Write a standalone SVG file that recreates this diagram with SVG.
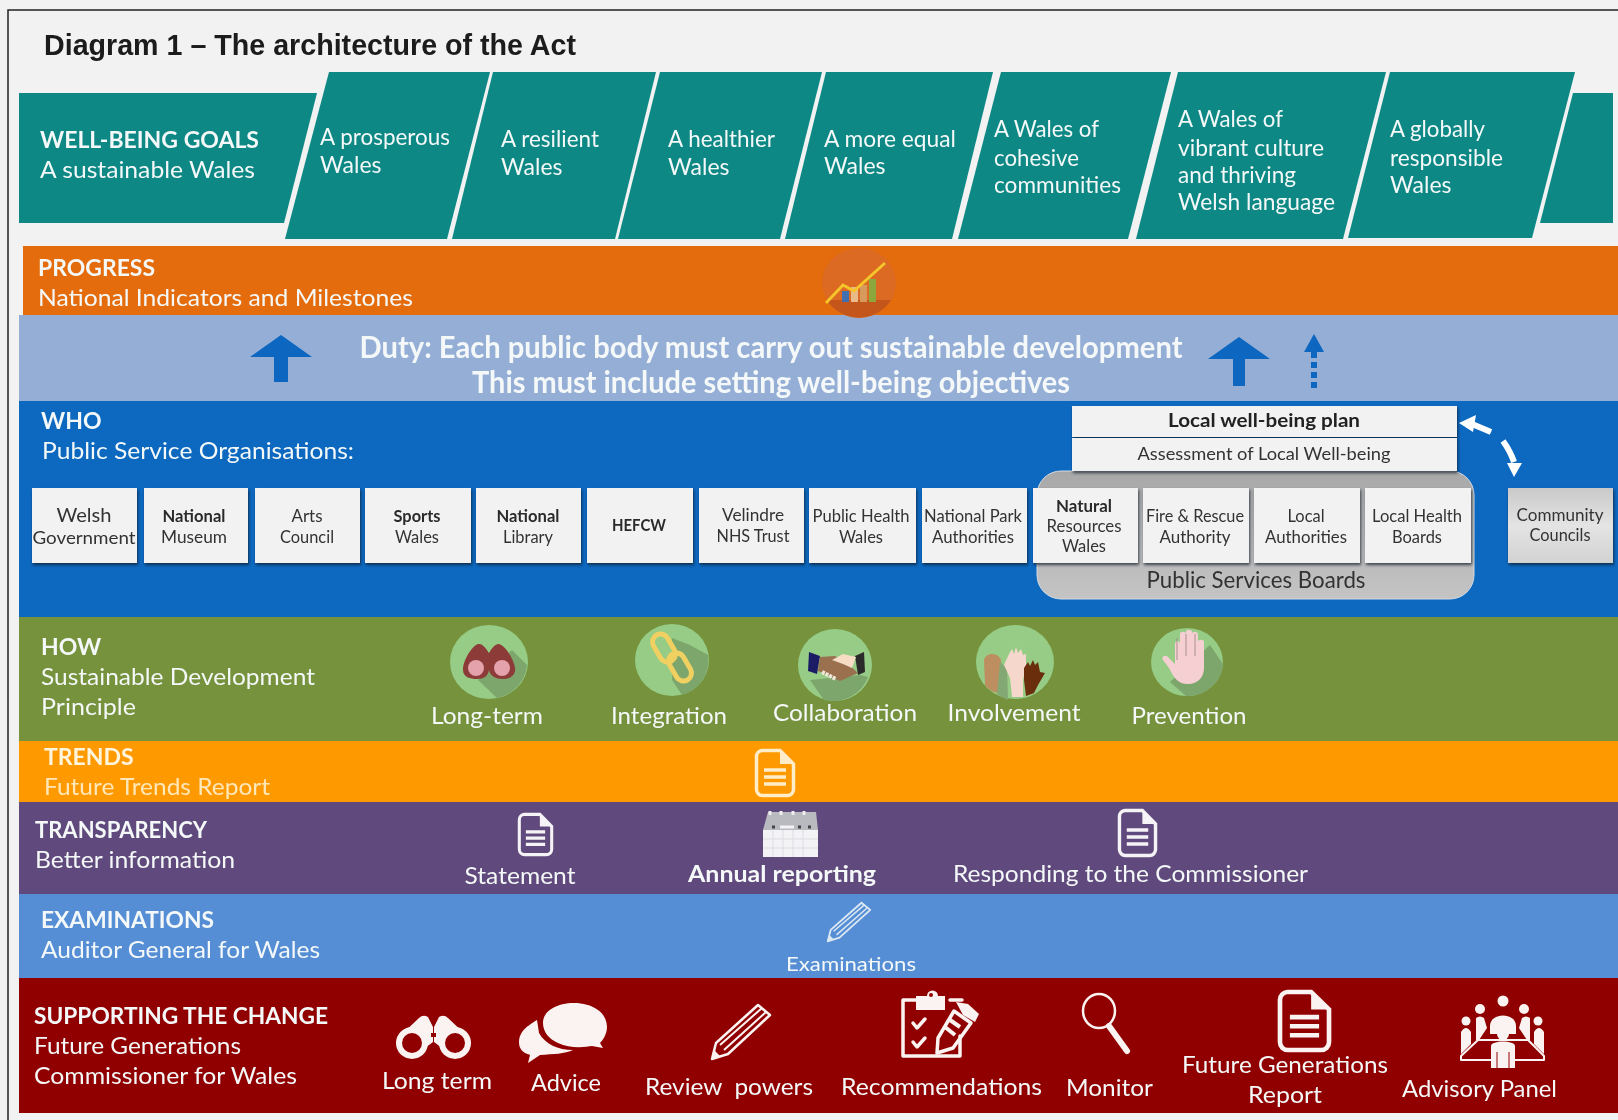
<svg xmlns="http://www.w3.org/2000/svg" width="1618" height="1120" viewBox="0 0 1618 1120">
<style>
text{font-family:"Lato","Carlito","Open Sans",sans-serif;fill:#f4f8f8;font-size:23px}
.b{font-weight:700}
.m{text-anchor:middle}
.t{font-family:"Liberation Sans",Arial,sans-serif;font-weight:700;font-size:29px;fill:#1a1a1a}
.k{fill:#333;font-size:17px;text-anchor:middle}
.kb{fill:#2b2b2b;font-size:17px;font-weight:700;text-anchor:middle}
.teal{fill:#0b8884}
.box{fill:#f2f2f2;filter:url(#sh)}
.disc{fill:#96cc86}
.shade{fill:#7da66d}
.w{fill:#fbf3f1}
.ln{fill:none;stroke:#fbf3f1;stroke-linecap:round;stroke-linejoin:round}
</style>
<defs>
<filter id="soft" x="-2%" y="-2%" width="104%" height="104%"><feGaussianBlur stdDeviation="0.6"/></filter>
<filter id="sh" x="-10%" y="-10%" width="125%" height="125%"><feDropShadow dx="1" dy="2" stdDeviation="1.6" flood-color="#0a1a2c" flood-opacity="0.75"/></filter>
<linearGradient id="cc" x1="0" y1="0" x2="0" y2="1"><stop offset="0" stop-color="#c9c9c9"/><stop offset="0.5" stop-color="#e4e4e4"/><stop offset="1" stop-color="#d2d2d2"/></linearGradient>
<linearGradient id="psb" x1="0" y1="0" x2="0" y2="1"><stop offset="0" stop-color="#a8a8a8"/><stop offset="0.6" stop-color="#b8b8b8"/><stop offset="1" stop-color="#c4c4c4"/></linearGradient>
<symbol id="doc" viewBox="0 0 40 48" preserveAspectRatio="none" overflow="visible">
<path d="M7 1.500H25L38.500 15V40.500A6 6 0 0 1 32.500 46.500H7.500A6 6 0 0 1 1.500 40.500V7.500A6 6 0 0 1 7 1.500Z" fill="none" stroke="currentColor" stroke-width="3.500"/>
<path d="M25 2V15H38Z" fill="currentColor"/>
<path d="M9 21H31M9 28H31M9 35H31" stroke="currentColor" stroke-width="3.500"/>
</symbol>
<symbol id="pencil" viewBox="0 0 60 56" preserveAspectRatio="none" overflow="visible">
<path d="M1 55L5 39L47 1L59 11L17 50Z" fill="none" stroke="currentColor" stroke-width="2.500" stroke-linejoin="round"/>
<path d="M9 41L51 4M13 46L55 8" fill="none" stroke="currentColor" stroke-width="2"/>
<path d="M1 55L3 46L9 52Z" fill="currentColor"/>
</symbol>
</defs>
<rect width="1618" height="1120" fill="#f2f2f2"/>
<g filter="url(#soft)">
<path d="M1618 10H8V1120" fill="none" stroke="#222" stroke-width="1.500"/>
<text class="t" x="44" y="55" textLength="532" lengthAdjust="spacingAndGlyphs">Diagram 1 – The architecture of the Act</text>

<g id="well-being-goals">
<path class="teal" d="M19 93H317L284 223H19Z"/>
<text class="b" x="40" y="148" font-size="24" textLength="219" lengthAdjust="spacingAndGlyphs">WELL-BEING GOALS</text>
<text x="40" y="178" textLength="215" lengthAdjust="spacingAndGlyphs">A sustainable Wales</text>
<path class="teal" d="M1573 93H1613V223H1540Z"/>
</g>
<g id="goal-prosperous"><path class="teal" d="M329 72H490L447 239H285Z"/>
<text x="320" y="145" textLength="130" lengthAdjust="spacingAndGlyphs">A prosperous</text><text x="320" y="173">Wales</text></g>
<g id="goal-resilient"><path class="teal" d="M493 72H656L615 239H452Z"/>
<text x="501" y="147" textLength="98" lengthAdjust="spacingAndGlyphs">A resilient</text><text x="501" y="175">Wales</text></g>
<g id="goal-healthier"><path class="teal" d="M660 72H822L780 239H618Z"/>
<text x="668" y="147" textLength="107" lengthAdjust="spacingAndGlyphs">A healthier</text><text x="668" y="175">Wales</text></g>
<g id="goal-equal"><path class="teal" d="M826 72H993L952 239H785Z"/>
<text x="824" y="147" textLength="132" lengthAdjust="spacingAndGlyphs">A more equal</text><text x="824" y="174">Wales</text></g>
<g id="goal-cohesive"><path class="teal" d="M1001 72H1171L1128 239H958Z"/>
<text x="994" y="137" textLength="105" lengthAdjust="spacingAndGlyphs">A Wales of</text><text x="994" y="166" textLength="85" lengthAdjust="spacingAndGlyphs">cohesive</text><text x="994" y="193" textLength="127" lengthAdjust="spacingAndGlyphs">communities</text></g>
<g id="goal-vibrant"><path class="teal" d="M1178 72H1386L1343 239H1136Z"/>
<text x="1178" y="127" textLength="105" lengthAdjust="spacingAndGlyphs">A Wales of</text><text x="1178" y="156" textLength="146" lengthAdjust="spacingAndGlyphs">vibrant culture</text><text x="1178" y="183" textLength="118" lengthAdjust="spacingAndGlyphs">and thriving</text><text x="1178" y="210" textLength="157" lengthAdjust="spacingAndGlyphs">Welsh language</text></g>
<g id="goal-globally"><path class="teal" d="M1390 72H1575L1532 238H1348Z"/>
<text x="1390" y="137" textLength="95" lengthAdjust="spacingAndGlyphs">A globally</text><text x="1390" y="166" textLength="113" lengthAdjust="spacingAndGlyphs">responsible</text><text x="1390" y="193">Wales</text></g>

<g id="progress">
<rect x="23" y="246" width="1595" height="69" fill="#e46c0a"/>
<text class="b" x="38" y="276" textLength="117" lengthAdjust="spacingAndGlyphs">PROGRESS</text>
<text x="38" y="306" textLength="375" lengthAdjust="spacingAndGlyphs">National Indicators and Milestones</text>
</g>

<g id="duty">
<rect x="19" y="315" width="1599" height="86" fill="#94aed6"/>
<text class="b m" x="771" y="358" style="font-size:30px" textLength="823" lengthAdjust="spacingAndGlyphs">Duty: Each public body must carry out sustainable development</text>
<text class="b m" x="771" y="393" style="font-size:30px" textLength="598" lengthAdjust="spacingAndGlyphs">This must include setting well-being objectives</text>
</g>

<g id="progress-icon">
<ellipse cx="859" cy="283" rx="37" ry="35" fill="#dc6a22"/>
<path d="M827 300A37 35 0 0 0 891 300Z" fill="#c4561b"/>
<rect x="842" y="291" width="7" height="11" fill="#3f6fb0"/><rect x="851" y="287" width="7" height="15" fill="#e9b98a"/><rect x="860" y="285" width="7" height="17" fill="#d79a5d"/><rect x="869" y="279" width="7" height="23" fill="#8ca83e"/>
<path d="M826 303L843 285L854 291L885 263" fill="none" stroke="#f5c52c" stroke-width="3"/>
</g>

<g id="who">
<rect x="19" y="401" width="1599" height="216" fill="#0a69c0"/>
<text class="b" x="41" y="429">WHO</text>
<text x="42" y="459" textLength="312" lengthAdjust="spacingAndGlyphs">Public Service Organisations:</text>
</g>
<g id="public-services-boards">
<rect x="1037" y="471" width="437" height="128" rx="24" fill="url(#psb)" stroke="#d5d9df"/>
<text class="m" x="1256" y="588" style="fill:#333" textLength="219" lengthAdjust="spacingAndGlyphs">Public Services Boards</text>
</g>
<g id="local-plan"><rect class="box" x="1072" y="406" width="385" height="31"/><text class="kb" x="1264" y="427" style="font-size:18px;fill:#222" textLength="192" lengthAdjust="spacingAndGlyphs">Local well-being plan</text></g>
<g id="assessment"><rect class="box" x="1072" y="438" width="385" height="33"/><text class="k" x="1264" y="460" textLength="253" lengthAdjust="spacingAndGlyphs">Assessment of Local Well-being</text></g>
<g id="org-welsh-government"><rect class="box" x="32" y="488" width="105" height="75"/><text class="k" x="84" y="522" style="font-size:20px" textLength="55" lengthAdjust="spacingAndGlyphs">Welsh</text><text class="k" x="84" y="544" textLength="103" lengthAdjust="spacingAndGlyphs">Government</text></g>
<g id="org-national-museum"><rect class="box" x="144" y="488" width="104" height="75"/><text class="kb" x="194" y="522" textLength="63" lengthAdjust="spacingAndGlyphs">National</text><text class="k" x="194" y="543" textLength="66" lengthAdjust="spacingAndGlyphs">Museum</text></g>
<g id="org-arts-council"><rect class="box" x="255" y="488" width="105" height="75"/><text class="k" x="307" y="522" textLength="31" lengthAdjust="spacingAndGlyphs">Arts</text><text class="k" x="307" y="543" textLength="54" lengthAdjust="spacingAndGlyphs">Council</text></g>
<g id="org-sports-wales"><rect class="box" x="365" y="488" width="106" height="75"/><text class="kb" x="417" y="522" textLength="47" lengthAdjust="spacingAndGlyphs">Sports</text><text class="k" x="417" y="543" textLength="44" lengthAdjust="spacingAndGlyphs">Wales</text></g>
<g id="org-national-library"><rect class="box" x="476" y="488" width="105" height="75"/><text class="kb" x="528" y="522" textLength="63" lengthAdjust="spacingAndGlyphs">National</text><text class="k" x="528" y="543" textLength="50" lengthAdjust="spacingAndGlyphs">Library</text></g>
<g id="org-hefcw"><rect class="box" x="587" y="488" width="106" height="75"/><text class="kb" x="639" y="531" textLength="54" lengthAdjust="spacingAndGlyphs">HEFCW</text></g>
<g id="org-velindre"><rect class="box" x="699" y="488" width="105" height="75"/><text class="k" x="753" y="521" textLength="62" lengthAdjust="spacingAndGlyphs">Velindre</text><text class="k" x="753" y="542" textLength="73" lengthAdjust="spacingAndGlyphs">NHS Trust</text></g>
<g id="org-public-health"><rect class="box" x="809" y="488" width="107" height="75"/><text class="k" x="861" y="522" textLength="97" lengthAdjust="spacingAndGlyphs">Public Health</text><text class="k" x="861" y="543" textLength="44" lengthAdjust="spacingAndGlyphs">Wales</text></g>
<g id="org-national-park"><rect class="box" x="922" y="488" width="105" height="75"/><text class="k" x="973" y="522" textLength="98" lengthAdjust="spacingAndGlyphs">National Park</text><text class="k" x="973" y="543" textLength="82" lengthAdjust="spacingAndGlyphs">Authorities</text></g>
<g id="org-natural-resources"><rect class="box" x="1033" y="488" width="105" height="75"/><text class="kb" x="1084" y="512" textLength="56" lengthAdjust="spacingAndGlyphs">Natural</text><text class="k" x="1084" y="532" textLength="75" lengthAdjust="spacingAndGlyphs">Resources</text><text class="k" x="1084" y="552" textLength="44" lengthAdjust="spacingAndGlyphs">Wales</text></g>
<g id="org-fire-rescue"><rect class="box" x="1143" y="488" width="106" height="75"/><text class="k" x="1195" y="522" textLength="98" lengthAdjust="spacingAndGlyphs">Fire &amp; Rescue</text><text class="k" x="1195" y="543" textLength="71" lengthAdjust="spacingAndGlyphs">Authority</text></g>
<g id="org-local-authorities"><rect class="box" x="1254" y="488" width="106" height="75"/><text class="k" x="1306" y="522" textLength="37" lengthAdjust="spacingAndGlyphs">Local</text><text class="k" x="1306" y="543" textLength="82" lengthAdjust="spacingAndGlyphs">Authorities</text></g>
<g id="org-local-health"><rect class="box" x="1365" y="488" width="106" height="75"/><text class="k" x="1417" y="522" textLength="90" lengthAdjust="spacingAndGlyphs">Local Health</text><text class="k" x="1417" y="543" textLength="50" lengthAdjust="spacingAndGlyphs">Boards</text></g>
<g id="org-community-councils"><rect x="1508" y="488" width="105" height="75" fill="url(#cc)" filter="url(#sh)"/><text class="k" x="1560" y="521" textLength="87" lengthAdjust="spacingAndGlyphs">Community</text><text class="k" x="1560" y="541" textLength="61" lengthAdjust="spacingAndGlyphs">Councils</text></g>

<g id="how">
<rect x="19" y="617" width="1599" height="124" fill="#76923c"/>
<text class="b" x="41" y="655">HOW</text>
<text x="41" y="685" textLength="274" lengthAdjust="spacingAndGlyphs">Sustainable Development</text>
<text x="41" y="715" textLength="95" lengthAdjust="spacingAndGlyphs">Principle</text>
</g>
<g id="long-term">
<ellipse class="disc" cx="489" cy="662" rx="39" ry="37"/>
<path class="shade" d="M478 680L512 650L527 665A39 37 0 0 1 497 698Z"/>
<path d="M478 644C472 646 463 660 463 670C463 677 470 679 477 679C484 679 488 676 489 670C490 676 496 679 503 679C510 679 516 675 515 668C514 660 506 646 499 644C494 644 491 650 489 653C487 650 483 643 478 644Z" fill="#8c3a37"/>
<circle cx="476" cy="668" r="8" fill="#e3a2ac"/><circle cx="502" cy="668" r="8" fill="#e3a2ac"/>
<text class="m" x="487" y="724" textLength="112" lengthAdjust="spacingAndGlyphs">Long-term</text>
</g>
<g id="integration">
<ellipse class="disc" cx="672" cy="660" rx="37" ry="36"/>
<path class="shade" d="M672 638L690 645L708 655A37 36 0 0 1 682 695L672 680Z"/>
<rect x="656" y="633" width="16" height="30" rx="8" transform="rotate(-30 664 648)" fill="none" stroke="#f0d060" stroke-width="5"/>
<rect x="672" y="652" width="16" height="30" rx="8" transform="rotate(-30 680 667)" fill="none" stroke="#f0d060" stroke-width="5"/>
<text class="m" x="669" y="724" textLength="116" lengthAdjust="spacingAndGlyphs">Integration</text>
</g>
<g id="collaboration">
<ellipse class="disc" cx="835" cy="665" rx="37" ry="36"/>
<path class="shade" d="M810 680L860 675L868 677A37 36 0 0 1 824 700Z"/>
<path d="M809 652L820 656L817 674L808 671Z" fill="#1f1f66"/><path d="M864 652L855 656L858 675L865 672Z" fill="#2b2b2b"/>
<path d="M820 657L835 656L848 664L858 673L840 681L826 674L818 671Z" fill="#9b6f50"/><path d="M832 660L843 654L856 657L852 668L843 664Z" fill="#f6dcc4"/>
<path d="M822 672L836 679" stroke="#f0e6d8" stroke-width="4" stroke-dasharray="3 1"/>
<text class="m" x="845" y="721" textLength="144" lengthAdjust="spacingAndGlyphs">Collaboration</text>
</g>
<g id="involvement">
<ellipse class="disc" cx="1015" cy="662" rx="39" ry="37"/>
<path d="M984 660C986 652 998 652 1001 660L1005 692C1000 695 990 692 985 685Z" fill="#bd8e5f"/>
<path d="M1000 662L1007 668L1008 700A39 37 0 0 1 997 694Z" fill="#83a873"/>
<path d="M1009 654L1012 649L1014 654L1016 647L1018 653L1021 649L1023 655L1026 654V668L1023 680V697H1012L1010 678L1004 665Z" fill="#f5d7cc"/>
<path d="M1024 668L1028 662L1030 666L1033 660L1035 665L1038 662L1040 672L1045 673L1038 685L1034 693L1026 696L1024 680Z" fill="#6a2d0e"/>
<text class="m" x="1014" y="721" textLength="133" lengthAdjust="spacingAndGlyphs">Involvement</text>
</g>
<g id="prevention">
<ellipse class="disc" cx="1187" cy="662" rx="36" ry="34"/>
<path class="shade" d="M1210 645L1223 664A36 34 0 0 1 1186 696L1170 682Z"/>
<path d="M1175 644C1175 640 1180 640 1180 644V634C1180 631 1186 631 1186 634V632C1186 629 1192 629 1192 632V634C1192 631 1198 631 1198 635V642C1198 639 1204 639 1204 642V668C1204 678 1197 684 1188 684C1178 684 1174 678 1169 668L1163 660C1161 657 1165 654 1168 657L1175 664Z" fill="#f6cfd2"/>
<path d="M1177 638V660M1186 634V656M1195 634V656" stroke="#9a8a85" stroke-width="1.500" opacity=".6"/>
<text class="m" x="1189" y="724" textLength="115" lengthAdjust="spacingAndGlyphs">Prevention</text>
</g>

<g id="trends">
<rect x="19" y="741" width="1599" height="61" fill="#ff9900"/>
<text class="b" x="44" y="765" style="fill:#fff4dc">TRENDS</text>
<text x="44" y="795" style="fill:#ffe7b8" textLength="226" lengthAdjust="spacingAndGlyphs">Future Trends Report</text>
<use href="#doc" x="755" y="749" width="40" height="48" style="color:#ffedc9"/>
</g>
<g id="transparency">
<rect x="19" y="802" width="1599" height="92" fill="#604a7b"/>
<text class="b" x="35" y="838" textLength="172" lengthAdjust="spacingAndGlyphs">TRANSPARENCY</text>
<text x="35" y="868" textLength="200" lengthAdjust="spacingAndGlyphs">Better information</text>
</g>
<g id="statement">
<use href="#doc" x="518" y="813" width="35" height="43" style="color:#f6f3f6"/>
<text class="m" x="520" y="884" textLength="111" lengthAdjust="spacingAndGlyphs">Statement</text>
</g>
<g id="annual-reporting">
<rect x="763" y="830" width="55" height="27" fill="#f3f3f6"/>
<path d="M768 812H816L818 830H763Z" fill="#b9b9c0"/>
<path d="M770 811V815M781 811V815M793 811V815M804 811V815" stroke="#eeeeee" stroke-width="3"/>
<path d="M772 827H775M798 827H801M808 827H811" stroke="#444" stroke-width="3"/>
<path d="M780 827H794" stroke="#f3f3f6" stroke-width="3"/>
<path d="M763 839H818M763 848H818M773 830V857M783 830V857M793 830V857M803 830V857" stroke="#dcdce2" stroke-width="1"/>
<text class="b m" x="782" y="882" textLength="188" lengthAdjust="spacingAndGlyphs">Annual reporting</text>
</g>
<g id="responding">
<use href="#doc" x="1118" y="809" width="39" height="48" style="color:#f6f3f6"/>
<text x="953" y="882" textLength="355" lengthAdjust="spacingAndGlyphs">Responding to the Commissioner</text>
</g>
<g id="examinations">
<rect x="19" y="894" width="1599" height="84" fill="#558ed5"/>
<text class="b" x="41" y="928" textLength="173" lengthAdjust="spacingAndGlyphs">EXAMINATIONS</text>
<text x="41" y="958" textLength="279" lengthAdjust="spacingAndGlyphs">Auditor General for Wales</text>
<use href="#pencil" x="827" y="902" width="44" height="40" style="color:#dbe8f2"/>
<text x="786" y="971" style="font-size:20px" textLength="130" lengthAdjust="spacingAndGlyphs">Examinations</text>
</g>
<g id="supporting">
<rect x="19" y="978" width="1599" height="135" fill="#900000"/>
<text class="b" x="34" y="1024" textLength="294" lengthAdjust="spacingAndGlyphs">SUPPORTING THE CHANGE</text>
<text x="34" y="1054" textLength="207" lengthAdjust="spacingAndGlyphs">Future Generations</text>
<text x="34" y="1084" textLength="263" lengthAdjust="spacingAndGlyphs">Commissioner for Wales</text>
</g>
<g id="sup-long-term">
<path class="w" d="M400 1036L419 1018Q423 1014 428 1017L433 1027V1042L425 1048Z"/>
<path class="w" d="M467 1036L448 1018Q444 1014 439 1017L434 1027V1042L442 1048Z"/>
<circle cx="412" cy="1043" r="16" class="w"/><circle cx="455" cy="1043" r="16" class="w"/>
<circle cx="412" cy="1043" r="10" fill="#900000"/><circle cx="455" cy="1043" r="10" fill="#900000"/>
<rect x="431" y="1033" width="5" height="4" fill="#900000"/>
<text x="382" y="1089" textLength="110" lengthAdjust="spacingAndGlyphs">Long term</text>
</g>
<g id="sup-advice">
<ellipse cx="576" cy="1025" rx="32" ry="22" fill="#900000"/>
<path class="w" d="M543 1023C543 1010 558 1003 574 1003C592 1003 607 1012 607 1027C607 1034 603 1040 600 1043L603 1048L592 1046C586 1047 570 1049 558 1043C549 1039 543 1032 543 1023Z"/>
<path class="w" d="M537 1020C529 1025 519 1031 519 1042C519 1050 524 1053 530 1055L528 1063L540 1055C553 1054 565 1054 573 1050C558 1050 545 1044 539 1033Z"/>
<text x="531" y="1091" textLength="70" lengthAdjust="spacingAndGlyphs">Advice</text>
</g>
<g id="sup-review">
<use href="#pencil" x="711" y="1004" width="60" height="56" style="color:#fbf3f1"/>
<text x="645" y="1095" textLength="168" lengthAdjust="spacingAndGlyphs" xml:space="preserve">Review  powers</text>
</g>
<g id="sup-recommendations">
<path class="ln" stroke-width="3.500" d="M918 1000H903V1056H960V1036M950 1000H962"/>
<path class="w" d="M916 996H927A5.500 5.500 0 0 1 938 996H945V1010H916Z"/>
<circle cx="931" cy="995" r="2" fill="#900000"/>
<path class="ln" stroke-width="3.500" d="M913 1023L917 1028L925 1019M913 1042L917 1047L925 1038"/>
<path class="w" d="M956 1002L968 1004L979 1014L975 1022L963 1015Z"/>
<path class="ln" stroke-width="3.500" d="M954 1011L971 1023L953 1048L937 1053L938 1038Z"/>
<path d="M950 1020L960 1027" stroke="#fbf3f1" stroke-width="4"/><path d="M945 1027L955 1035" stroke="#fbf3f1" stroke-width="4"/>
<text x="841" y="1095" textLength="201" lengthAdjust="spacingAndGlyphs">Recommendations</text>
</g>
<g id="sup-monitor">
<ellipse cx="1099" cy="1011" rx="16" ry="17" fill="none" stroke="#fbf3f1" stroke-width="2.500"/>
<path d="M1109 1026L1127 1051" stroke="#fbf3f1" stroke-width="6" stroke-linecap="round"/>
<text x="1066" y="1096" textLength="87" lengthAdjust="spacingAndGlyphs">Monitor</text>
</g>
<g id="sup-report">
<use href="#doc" x="1278" y="990" width="53" height="62" style="color:#fbf3f1"/>
<text class="m" x="1285" y="1073" textLength="206" lengthAdjust="spacingAndGlyphs">Future Generations</text>
<text class="m" x="1285" y="1103" textLength="74" lengthAdjust="spacingAndGlyphs">Report</text>
</g>
<g id="sup-panel">
<circle cx="1503" cy="1001" r="5.500" class="w"/><circle cx="1480" cy="1009" r="5" class="w"/><circle cx="1524" cy="1009" r="5" class="w"/><circle cx="1466" cy="1021" r="4.500" class="w"/><circle cx="1538" cy="1021" r="4.500" class="w"/>
<path class="w" d="M1490 1026C1490 1012 1516 1012 1516 1026V1034H1490Z"/>
<path class="w" d="M1476 1018Q1480 1015 1484 1018L1487 1028L1479 1040H1476Z M1522 1018Q1526 1015 1530 1018V1040H1527L1519 1028Z"/>
<path class="w" d="M1461 1032Q1466 1024 1471 1032V1044L1461 1054Z M1534 1032Q1539 1024 1544 1032V1054L1534 1044Z"/>
<path class="ln" stroke-width="2" d="M1478 1040H1528L1544 1056V1060H1461V1056Z"/>
<circle cx="1503" cy="1034" r="6" class="w"/>
<path class="w" d="M1491 1046C1491 1040 1515 1040 1515 1046V1068H1491Z"/>
<path d="M1497 1052V1068M1509 1052V1068" stroke="#900000" stroke-width="1"/>
<text x="1402" y="1097" textLength="155" lengthAdjust="spacingAndGlyphs">Advisory Panel</text>
</g>

<g id="connectors">
<path d="M281 335L312 357H288V382H274V357H250Z" fill="#0a66bf"/>
<path d="M1239 337L1270 359H1245V386H1233V359H1208Z" fill="#0a66bf"/>
<path d="M1314 334L1324 352H1304Z" fill="#0a66bf"/>
<path d="M1314 352V390" stroke="#0a66bf" stroke-width="6" stroke-dasharray="6 4"/>
<path d="M1459 423L1476 415L1473 432Z" fill="#fff"/>
<path d="M1472 424L1491 432" stroke="#fff" stroke-width="6"/>
<path d="M1503 441C1508 448 1511 453 1514 462" stroke="#fff" stroke-width="6" fill="none"/>
<path d="M1514 477L1507 463H1522Z" fill="#fff"/>
</g>
</g>
</svg>
